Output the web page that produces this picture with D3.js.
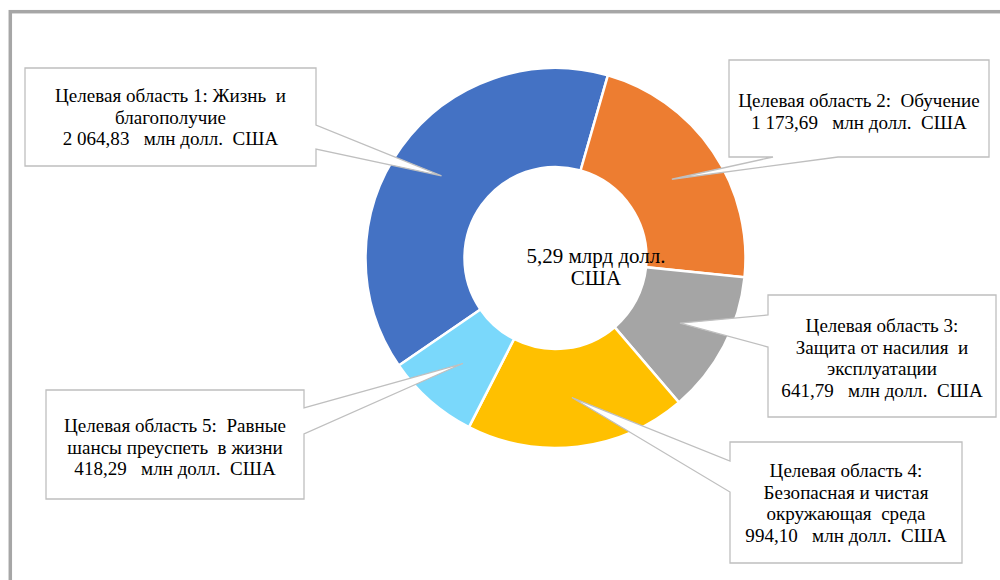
<!DOCTYPE html>
<html>
<head>
<meta charset="utf-8">
<script src="https://cdn.jsdelivr.net/npm/d3@7"></script>
<style>
  html, body { margin: 0; padding: 0; background: #fff; }
  svg { display: block; }
  text { font-family: "Liberation Serif", "Times New Roman", serif; fill: #000; white-space: pre; }
</style>
</head>
<body>
<svg id="chart" width="1000" height="580"></svg>
<script>
// ---- data ----
const categories = [
  "Целевая область 1",
  "Целевая область 2",
  "Целевая область 3",
  "Целевая область 4",
  "Целевая область 5"
];
const values = [2064.83, 1173.69, 641.79, 994.10, 418.29];
const labelLines = [
  ["Целевая область 1: Жизнь  и", "благополучие", "2 064,83   млн долл.  США"],
  ["Целевая область 2:  Обучение", "1 173,69   млн долл.  США"],
  ["Целевая область 3:", "Защита от насилия  и", "эксплуатации", "641,79   млн долл.  США"],
  ["Целевая область 4:", "Безопасная и чистая", "окружающая  среда", "994,10   млн долл.  США"],
  ["Целевая область 5:  Равные", "шансы преуспеть  в жизни", "418,29   млн долл.  США"]
];
const centerLines = ["5,29 млрд долл.", "США"];
const colors = ["#4472C4", "#ED7D31", "#A5A5A5", "#FFC000", "#7AD8FB"];

// ---- layout ----
const cx = 555.5, cy = 258, outerR = 190, innerR = 91;
const startDeg = -124.45;
const boxes = [
  {x: 25,  y: 68,  w: 291, h: 98,  side: "right",  b1: 125, b2: 149, base: 102},
  {x: 729, y: 60,  w: 260, h: 97,  side: "bottom", b1: 773, b2: 838, base: 107},
  {x: 768, y: 295, w: 228, h: 122, side: "left",   b1: 315, b2: 347, base: 332},
  {x: 730, y: 442, w: 232, h: 121, side: "left",   b1: 461, b2: 492, base: 477},
  {x: 46,  y: 390, w: 258, h: 109, side: "right",  b1: 408, b2: 434, base: 432}
];
const lineH = 21.7;
const stretch = 1.06;

const svg = d3.select("#chart");

// frame
svg.append("rect")
  .attr("x", 10.3).attr("y", 11.7).attr("width", 1010).attr("height", 600)
  .attr("fill", "none").attr("stroke", "#a6a6a6").attr("stroke-width", 3.5);

const pie = d3.pie().sort(null).value(d => d)
  .startAngle(startDeg * Math.PI / 180)
  .endAngle(startDeg * Math.PI / 180 + 2 * Math.PI);
const arcs = pie(values);
const arc = d3.arc().innerRadius(innerR).outerRadius(outerR);

const g = svg.append("g").attr("transform", `translate(${cx},${cy})`);
g.selectAll("path.slice").data(arcs).enter().append("path")
  .attr("class", "slice")
  .attr("d", arc)
  .attr("fill", (d, i) => colors[i])
  .attr("stroke", "#fff").attr("stroke-width", 2.5).attr("stroke-linejoin", "miter");

// center text
const ct = svg.append("text").attr("text-anchor", "middle").attr("font-size", 21)
  .attr("transform", "translate(596,0)");
centerLines.forEach((ln, j) => {
  ct.append("tspan").attr("x", 0).attr("y", 263 + j * 22).text(ln);
});

// callouts
arcs.forEach((a, i) => {
  const b = boxes[i];
  const c = arc.centroid(a);
  const tx = cx + c[0], ty = cy + c[1];
  const x0 = b.x, y0 = b.y, x1 = b.x + b.w, y1 = b.y + b.h;
  let pts;
  if (b.side === "right") {
    pts = [[x0, y0], [x1, y0], [x1, b.b1], [tx, ty], [x1, b.b2], [x1, y1], [x0, y1]];
  } else if (b.side === "left") {
    pts = [[x0, y0], [x1, y0], [x1, y1], [x0, y1], [x0, b.b2], [tx, ty], [x0, b.b1]];
  } else {
    pts = [[x0, y0], [x1, y0], [x1, y1], [b.b2, y1], [tx, ty], [b.b1, y1], [x0, y1]];
  }
  svg.append("path")
    .attr("d", "M" + pts.map(p => p.join(",")).join("L") + "Z")
    .attr("fill", "#fff").attr("stroke", "#bfbfbf").attr("stroke-width", 1.3);
  const t = svg.append("text").attr("text-anchor", "middle").attr("font-size", 18)
    .attr("transform", `translate(${b.x + b.w / 2},0) scale(${stretch},1)`);
  labelLines[i].forEach((ln, j) => {
    t.append("tspan").attr("x", 0).attr("y", b.base + j * lineH).text(ln);
  });
});
</script>
</body>
</html>
